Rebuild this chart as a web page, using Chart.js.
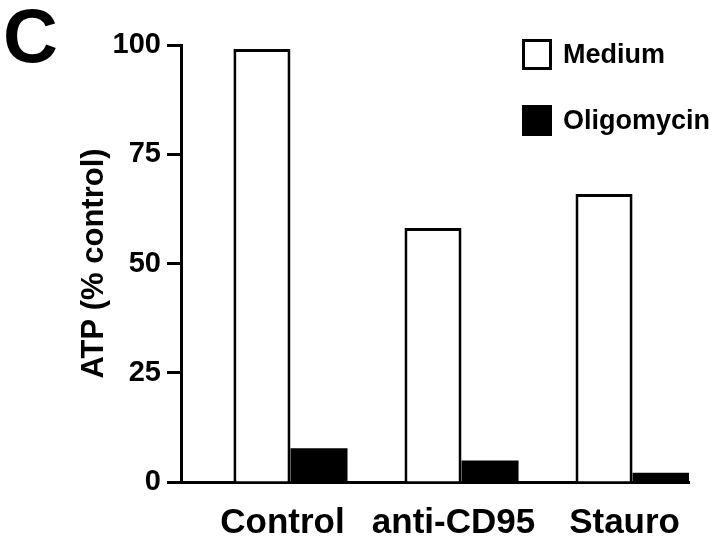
<!DOCTYPE html>
<html>
<head>
<meta charset="utf-8">
<script src="https://cdn.jsdelivr.net/npm/chart.js@4.4.1/dist/chart.umd.min.js"></script>
<style>
  html, body { margin: 0; padding: 0; background: #fff; }
  #wrap { position: relative; width: 720px; height: 539px; font-family: "Liberation Sans", Arial, sans-serif; }
  #panel { position: absolute; left: 3px; top: -8px; font-size: 76px; font-weight: bold; color: #000; }
  #legend { position: absolute; left: 522px; top: 38px; }
  .item { display: flex; align-items: center; height: 32px; margin-bottom: 34px; font-size: 27px; font-weight: bold; }
  .box { width: 30px; height: 31px; box-sizing: border-box; border: 3px solid #000; margin-right: 11px; }
</style>
</head>
<body>
<div id="wrap">
  <canvas id="atpChart" width="720" height="539"></canvas>
  <div id="panel">C</div>
  <div id="legend"></div>
</div>
<script>
const categories = ["Control", "anti-CD95", "Stauro"];
const seriesNames = ["Medium", "Oligomycin"];
const medium = [99.1, 58.1, 65.9];
const oligomycin = [7.7, 4.9, 2.1];
const yTicks = [0, 25, 50, 75, 100];

const fillColors = ["#ffffff", "#000000"];

const ctx = document.getElementById("atpChart").getContext("2d");

const chart = new Chart(ctx, {
    type: "bar",
    data: {
        labels: categories.map((c, i) => i + 1),
        datasets: [
            {
                label: seriesNames[0],
                data: medium,
                backgroundColor: fillColors[0],
                borderColor: "#000",
                borderWidth: 3
            },
            {
                label: seriesNames[1],
                data: oligomycin,
                backgroundColor: fillColors[1],
                borderColor: "#000",
                borderWidth: 0
            }
        ]
    },
    options: {
        responsive: false,
        animation: false,
        categoryPercentage: 0.667,
        barPercentage: 1,
        layout: { padding: { left: 0, right: 31, top: 45, bottom: 0 } },
        plugins: {
            legend: { display: false },
            tooltip: { enabled: false }
        },
        scales: {
            x: {
                type: "linear",
                min: 0.36,
                max: 3.33,
                offset: false,
                grid: { display: false, drawTicks: false, offset: false },
                border: { display: true, color: "#000", width: 3 },
                afterBuildTicks: scale => {
                    scale.ticks = categories.map((c, i) => ({ value: i + 1 }));
                },
                afterFit: scale => { scale.height = 57; },
                ticks: {
                    color: "#000",
                    padding: 20,
                    labelOffset: -8,
                    maxRotation: 0,
                    autoSkip: false,
                    font: { family: "Liberation Sans", size: 35, weight: "bold" },
                    callback: value => categories[value - 1]
                }
            },
            y: {
                min: 0,
                max: 100,
                grid: { drawOnChartArea: false, drawTicks: true, tickLength: 14, tickWidth: 3, tickColor: "#000" },
                border: { display: true, color: "#000", width: 3 },
                afterBuildTicks: scale => {
                    scale.ticks = yTicks.map(v => ({ value: v }));
                },
                afterFit: scale => { scale.width = 181; },
                ticks: {
                    color: "#000",
                    padding: 6,
                    font: { family: "Liberation Sans", size: 29, weight: "bold" }
                },
                title: {
                    display: true,
                    text: "ATP (% control)",
                    color: "#000",
                    padding: { top: 76, bottom: 0 },
                    font: { family: "Liberation Sans", size: 31, weight: "bold" }
                }
            }
        }
    }
});

// legend built from the datasets
const legend = document.getElementById("legend");
chart.data.datasets.forEach(ds => {
    const item = document.createElement("div");
    item.className = "item";
    const box = document.createElement("div");
    box.className = "box";
    box.style.background = ds.backgroundColor;
    const txt = document.createElement("span");
    txt.textContent = ds.label;
    item.appendChild(box);
    item.appendChild(txt);
    legend.appendChild(item);
});
</script>
</body>
</html>
